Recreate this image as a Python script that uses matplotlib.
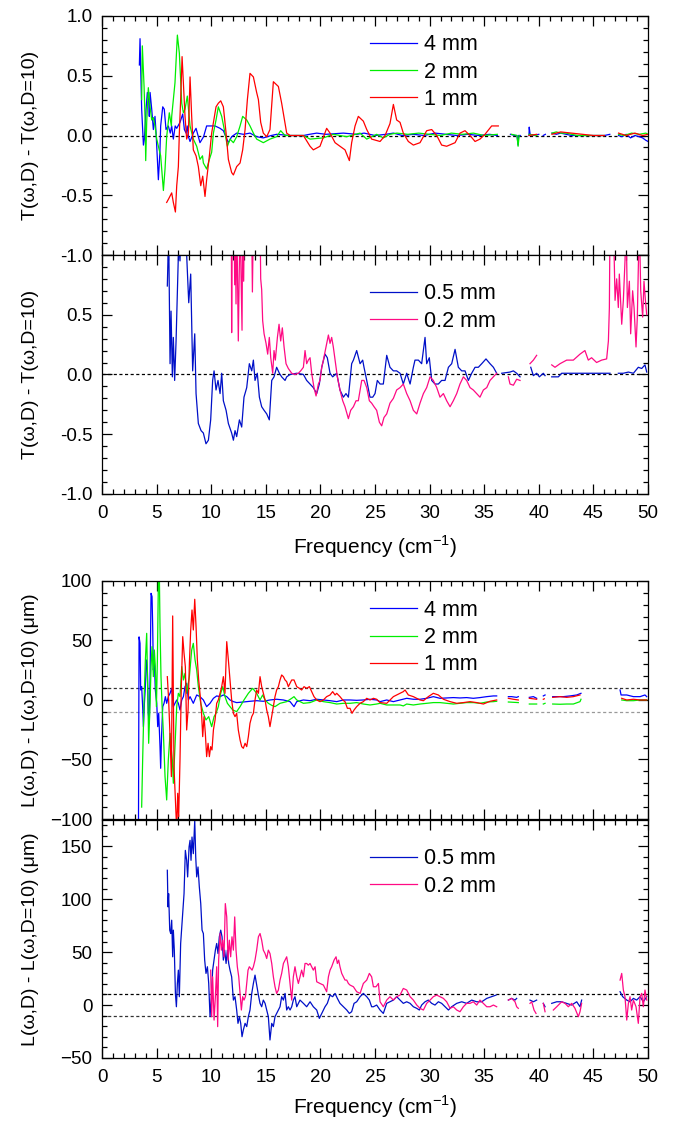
import numpy as np
import matplotlib.pyplot as plt
from matplotlib.ticker import MultipleLocator

plt.rcParams['font.family'] = ['Liberation Sans', 'DejaVu Sans']
nan = np.nan

# ---- transmission difference, thick samples (frequency cm-1, value) ----
t_4mm = [(3.42, 0.59), (3.48, 0.81), (3.63, 0.22), (3.79, -0.08), (3.88, -0.03), (4.03, 0.22), (4.15, 0.36),
         (4.27, 0.30), (4.33, 0.16), (4.40, 0.36), (4.55, 0.22), (4.70, 0.05), (4.85, 0.16), (4.95, 0.02),
         (5.01, -0.09), (5.16, -0.37), (5.30, -0.14), (5.37, 0.08), (5.56, 0.24), (5.70, 0.22), (5.86, 0.05),
         (6.07, 0.08), (6.25, 0.02), (6.38, 0.08), (6.53, -0.03), (6.70, 0.08), (6.84, 0.06), (7.14, 0.11),
         (7.39, 0.18), (7.54, 0.05), (7.70, 0.02), (7.80, 0.08), (7.91, -0.01), (8.06, -0.05), (8.36, 0.02),
         (8.61, 0.06), (8.97, -0.06), (9.30, -0.01), (9.58, 0.08), (9.89, 0.08), (10.35, 0.08), (10.81, 0.06),
         (11.11, 0.04), (11.57, -0.06), (11.87, -0.01), (12.33, 0.02), (12.94, 0.01), (13.55, 0.02),
         (14.16, -0.01), (14.77, -0.02), (15.5, 0.0), (15.99, 0.01), (17.22, 0.0), (18.44, 0.0), (19.0, 0.01),
         (19.66, 0.02), (20.5, 0.01), (22.1, 0.02), (23.32, 0.01), (24.0, 0.02), (25.0, 0.0), (26.0, 0.01),
         (26.68, 0.02), (27.5, 0.0), (28.5, 0.01), (29.5, 0.0), (30.5, 0.02), (31.5, 0.01), (32.5, 0.0),
         (33.5, 0.01), (34.5, 0.0), (35.5, 0.01), (36.2, 0.0), (nan, nan),
         (37.4, 0.01), (37.8, 0.0), (38.0, 0.0), (38.1, -0.08), (38.15, 0.0), (38.3, 0.0), (nan, nan),
         (39.1, 0.0), (39.12, 0.07), (39.2, 0.01), (39.6, 0.0), (40.0, 0.01), (nan, nan),
         (40.4, 0.0), (40.6, 0.01), (nan, nan),
         (41.2, 0.02), (41.6, 0.01), (42.0, 0.02), (42.5, 0.01), (43.0, 0.0), (44.0, 0.0), (45.0, 0.0),
         (46.0, 0.0), (46.5, 0.01), (nan, nan),
         (47.3, 0.0), (47.6, -0.01), (48.0, 0.01), (48.4, -0.02), (48.8, 0.0), (49.2, -0.01), (49.5, -0.02),
         (49.8, -0.04), (50.0, -0.05)]

t_2mm = [(3.63, 0.30), (3.69, 0.75), (3.85, 0.41), (3.95, 0.11), (4.00, -0.21), (4.09, 0.11), (4.24, 0.40),
         (4.40, 0.24), (4.55, 0.13), (4.70, 0.15), (4.85, 0.08), (5.01, -0.03), (5.16, -0.09), (5.37, -0.17),
         (5.62, -0.46), (5.77, -0.28), (5.92, -0.01), (6.16, 0.19), (6.35, 0.08), (6.38, 0.16), (6.68, 0.44),
         (6.90, 0.84), (7.08, 0.69), (7.30, 0.27), (7.45, 0.19), (7.60, 0.22), (7.81, 0.33), (8.06, 0.08),
         (8.36, -0.03), (8.67, -0.09), (8.97, -0.20), (9.20, -0.17), (9.28, -0.23), (9.58, -0.28),
         (9.83, -0.20), (10.04, -0.14), (10.20, 0.02), (10.44, 0.13), (10.65, 0.24), (10.96, 0.16),
         (11.26, 0.02), (11.48, -0.09), (11.72, -0.03), (12.03, -0.06), (12.33, -0.01), (12.64, 0.08),
         (12.88, 0.16), (13.25, 0.13), (13.55, 0.08), (13.86, 0.02), (14.16, -0.03), (14.77, -0.06),
         (15.38, -0.03), (15.99, -0.01), (16.36, 0.04), (16.76, 0.0), (17.22, 0.0), (18.44, 0.0),
         (19.05, -0.03), (20.27, -0.02), (21.18, 0.01), (22.41, -0.01), (23.63, 0.02), (24.24, -0.03),
         (25.15, 0.01), (25.76, -0.02), (26.37, 0.01), (27.0, 0.02), (28.0, 0.01), (29.0, 0.02), (30.0, 0.01),
         (31.0, 0.0), (32.0, 0.02), (33.0, 0.01), (34.0, 0.02), (35.0, 0.0), (36.2, 0.01), (nan, nan),
         (37.5, 0.01), (38.0, 0.0), (38.1, -0.09), (38.2, 0.0), (nan, nan),
         (39.1, 0.01), (39.8, 0.0), (nan, nan),
         (41.2, 0.02), (41.6, 0.03), (42.0, 0.02), (42.5, 0.02), (43.0, 0.01), (43.5, 0.0), (44.0, 0.0),
         (46.0, 0.0), (nan, nan),
         (47.3, 0.01), (47.8, 0.0), (48.5, 0.02), (49.2, 0.01), (49.8, 0.02), (50.0, 0.01)]

t_1mm = [(5.92, -0.56), (6.10, -0.53), (6.38, -0.48), (6.53, -0.56), (6.72, -0.64), (6.84, -0.42),
         (6.99, -0.26), (7.08, 0.02), (7.20, 0.30), (7.33, 0.66), (7.45, 0.44), (7.60, 0.16), (7.75, -0.03),
         (7.91, 0.02), (8.06, 0.49), (8.21, 0.16), (8.36, -0.12), (8.61, -0.17), (8.82, -0.26), (9.04, -0.42),
         (9.22, -0.34), (9.43, -0.51), (9.58, -0.37), (9.83, -0.17), (10.04, 0.02), (10.44, 0.24),
         (10.65, 0.27), (10.87, 0.29), (11.11, 0.24), (11.36, 0.02), (11.57, -0.20), (11.87, -0.31),
         (12.03, -0.33), (12.33, -0.26), (12.64, -0.23), (12.88, -0.12), (13.10, 0.05), (13.31, 0.30),
         (13.55, 0.52), (13.86, 0.49), (14.16, 0.36), (14.32, 0.30), (14.53, 0.11), (14.77, 0.02),
         (15.08, -0.01), (15.38, 0.05), (15.69, 0.45), (16.15, 0.41), (16.45, 0.27), (16.91, 0.02),
         (17.22, 0.0), (18.44, 0.0), (19.05, -0.09), (19.35, -0.12), (19.96, -0.09), (20.57, 0.06),
         (20.88, 0.02), (21.34, -0.06), (21.79, -0.09), (22.25, -0.12), (22.65, -0.21), (22.86, -0.06),
         (23.17, 0.08), (23.47, 0.16), (23.93, 0.12), (24.24, 0.05), (24.69, -0.03), (25.46, -0.05),
         (25.92, 0.0), (26.37, 0.10), (26.68, 0.26), (26.98, 0.13), (27.29, 0.11), (27.59, 0.02),
         (28.05, -0.05), (28.51, -0.08), (29.12, -0.06), (29.73, 0.04), (30.19, 0.05), (30.65, 0.0),
         (31.10, -0.08), (31.56, -0.09), (32.33, -0.06), (32.78, 0.02), (33.24, 0.04), (33.70, 0.0),
         (34.16, -0.05), (34.61, -0.03), (35.07, 0.01), (35.68, 0.08), (36.29, 0.08), (nan, nan),
         (39.1, 0.0), (39.8, 0.01), (nan, nan),
         (41.2, 0.01), (42.0, 0.03), (43.0, 0.02), (44.0, 0.01), (45.0, 0.0), (46.0, 0.0), (nan, nan),
         (47.3, 0.02), (48.0, 0.0), (48.8, 0.02), (49.5, 0.0), (50.0, 0.01)]

# ---- transmission difference, thin samples ----
t_05mm = [(5.98, 0.74), (6.10, 1.2), (6.23, 0.09), (6.32, 0.53), (6.44, -0.02), (6.53, 0.31), (6.65, -0.05),
          (6.78, 0.28), (6.90, 0.70), (7.02, 1.1), (7.14, 0.95), (7.26, 1.3), (7.39, 1.0), (7.51, 1.3),
          (7.75, 1.0), (7.94, 0.60), (8.12, 0.84), (8.30, 0.03), (8.49, 0.34), (8.61, -0.16), (8.82, -0.41),
          (9.07, -0.47), (9.28, -0.49), (9.52, -0.58), (9.74, -0.55), (9.95, -0.38), (10.13, -0.05),
          (10.26, 0.03), (10.44, -0.13), (10.62, -0.05), (10.81, -0.16), (10.96, 0.01), (11.11, -0.22),
          (11.36, -0.30), (11.57, -0.41), (11.87, -0.49), (12.03, -0.55), (12.18, -0.47), (12.33, -0.52),
          (12.58, -0.38), (12.79, -0.44), (13.00, -0.19), (13.25, -0.11), (13.49, 0.09), (13.71, 0.03),
          (13.86, 0.12), (14.01, -0.05), (14.22, 0.01), (14.41, -0.19), (14.62, -0.27), (14.84, -0.30),
          (15.08, -0.33), (15.32, -0.38), (15.54, -0.05), (15.75, -0.02), (15.99, 0.06), (16.24, 0.01),
          (16.45, -0.02), (16.76, -0.05), (16.91, -0.02), (17.22, 0.0), (17.83, 0.01), (18.44, 0.0),
          (18.74, -0.05), (19.05, -0.08), (19.35, -0.11), (19.66, -0.16), (19.90, -0.08), (20.12, 0.06),
          (20.42, 0.17), (20.63, 0.14), (20.88, 0.01), (21.12, -0.02), (21.49, 0.01), (21.79, -0.13),
          (22.10, -0.19), (22.34, -0.16), (22.56, -0.19), (22.86, 0.09), (23.02, 0.12), (23.32, 0.20),
          (23.63, 0.09), (23.87, 0.12), (23.99, 0.06), (24.24, -0.05), (24.54, -0.19), (24.79, -0.19),
          (25.00, -0.16), (25.21, -0.05), (25.46, -0.08), (25.76, -0.08), (26.07, 0.16), (26.37, 0.06),
          (26.68, 0.03), (26.98, 0.03), (27.29, 0.01), (27.59, -0.08), (27.90, 0.01), (28.21, -0.08),
          (28.51, 0.06), (28.66, 0.12), (28.97, 0.12), (29.27, 0.09), (29.58, 0.31), (29.73, 0.09),
          (29.97, 0.14), (30.19, -0.05), (30.49, -0.08), (30.80, -0.08), (31.10, -0.05), (31.41, -0.05),
          (31.72, 0.06), (32.02, 0.09), (32.33, 0.21), (32.63, 0.06), (32.94, 0.03), (33.24, 0.03),
          (33.55, -0.05), (33.85, 0.01), (34.16, 0.06), (34.46, 0.06), (34.77, 0.09), (35.16, 0.13),
          (35.53, 0.09), (35.84, 0.06), (36.14, 0.01), (nan, nan),
          (36.6, 0.01), (37.36, 0.02), (37.67, 0.03), (37.97, 0.01), (38.28, -0.02), (nan, nan),
          (39.26, 0.06), (39.50, -0.01), (39.80, 0.01), (40.05, -0.02), (40.41, 0.01), (40.57, -0.01), (nan, nan),
          (41.18, -0.02), (41.48, -0.02), (41.79, -0.02), (42.09, 0.01), (42.55, 0.01), (43.16, 0.01),
          (43.77, 0.01), (44.38, 0.01), (44.99, 0.01), (45.60, 0.01), (46.52, 0.01), (nan, nan),
          (47.28, 0.01), (47.74, 0.01), (48.20, 0.02), (48.66, 0.01), (49.11, 0.06), (49.42, 0.05),
          (49.72, 0.08), (49.88, 0.02)]

t_02mm = [(11.84, 1.3), (11.87, 0.35), (11.92, 1.3), (12.09, 1.3), (12.15, 0.75), (12.21, 1.3), (12.27, 0.59),
          (12.33, 1.3), (12.39, 0.95), (12.48, 0.28), (12.55, 0.76), (12.64, 1.3), (12.76, 0.70),
          (12.82, 0.37), (12.88, 1.3), (12.97, 0.78), (13.03, 1.3), (13.70, 1.3), (13.77, 0.69), (13.86, 1.3),
          (14.47, 1.3), (14.53, 0.80), (14.62, 0.71), (14.71, 0.45), (14.84, 0.34), (15.02, 0.26),
          (15.17, 0.17), (15.32, 0.31), (15.45, 0.14), (15.63, 0.01), (15.75, 0.20), (15.87, 0.12),
          (16.06, 0.31), (16.21, 0.42), (16.36, 0.28), (16.51, 0.39), (16.67, 0.23), (16.85, 0.09),
          (17.06, 0.05), (17.37, 0.01), (17.67, 0.0), (17.98, 0.01), (18.19, 0.03), (18.44, 0.06),
          (18.59, 0.20), (18.74, 0.09), (18.89, 0.12), (19.05, 0.14), (19.20, 0.01), (19.41, -0.11),
          (19.60, -0.18), (19.81, -0.08), (19.96, -0.05), (20.12, 0.06), (20.27, 0.12), (20.51, 0.23),
          (20.73, 0.33), (20.88, 0.26), (21.03, 0.31), (21.18, 0.23), (21.34, 0.12), (21.55, -0.02),
          (21.79, -0.13), (22.04, -0.22), (22.25, -0.27), (22.56, -0.37), (22.77, -0.30), (23.02, -0.27),
          (23.26, -0.22), (23.47, -0.22), (23.78, -0.05), (23.99, -0.05), (24.24, -0.11), (24.48, -0.22),
          (24.69, -0.24), (24.91, -0.27), (25.15, -0.30), (25.40, -0.40), (25.61, -0.43), (25.82, -0.36),
          (26.07, -0.33), (26.37, -0.24), (26.68, -0.20), (26.98, -0.13), (27.29, -0.11), (27.59, -0.08),
          (27.90, -0.16), (28.21, -0.22), (28.51, -0.30), (28.82, -0.33), (29.12, -0.24), (29.43, -0.16),
          (29.73, -0.11), (30.04, -0.02), (30.34, -0.05), (30.65, -0.11), (30.95, -0.19), (31.26, -0.16),
          (31.56, -0.22), (31.87, -0.27), (32.17, -0.22), (32.48, -0.16), (32.78, -0.08), (33.09, -0.02),
          (33.39, -0.05), (33.70, -0.11), (34.00, -0.13), (34.31, -0.16), (34.61, -0.19), (34.92, -0.13),
          (35.23, -0.11), (35.53, -0.05), (35.84, -0.02), (36.14, 0.01), (nan, nan),
          (37.21, -0.02), (37.36, -0.08), (37.67, -0.09), (37.97, -0.04), (38.28, -0.05), (nan, nan),
          (39.19, 0.09), (39.50, 0.12), (39.80, 0.16), (nan, nan),
          (41.18, 0.08), (41.48, 0.06), (41.94, 0.09), (42.55, 0.12), (43.16, 0.12), (43.77, 0.17),
          (44.22, 0.20), (44.53, 0.12), (44.83, 0.14), (45.29, 0.10), (45.75, 0.12), (46.21, 0.13),
          (46.37, 0.28), (46.46, 0.56), (46.52, 1.3), (46.83, 1.3), (46.98, 0.62), (47.13, 0.80),
          (47.28, 0.56), (47.37, 0.84), (47.59, 0.42), (47.74, 0.62), (47.89, 0.95), (47.99, 1.3),
          (48.11, 0.56), (48.29, 0.78), (48.41, 0.34), (48.59, 0.70), (48.72, 0.56), (48.90, 0.23),
          (49.02, 0.48), (49.20, 1.3), (49.33, 0.70), (49.51, 0.48), (49.63, 0.78), (49.76, 0.62),
          (49.88, 0.50)]

# ---- loss difference (um), thick samples ----
l_4mm = [(3.33, -130), (3.39, 53), (3.48, 47.6), (3.54, 8.4), (3.63, 11.2), (3.72, -5.6), (3.79, -22.4),
         (3.88, -2.8), (3.97, 11.2), (4.06, 33.6), (4.15, 25.2), (4.24, -11.2), (4.33, -19.6), (4.40, 19.6),
         (4.49, 89.6), (4.58, 86.8), (4.64, 61.6), (4.70, 25.2), (4.79, 33.6), (4.88, 8.4), (5.01, -2.8),
         (5.10, -22.4), (5.19, -11.2), (5.31, -39.2), (5.37, -57.4), (5.46, -28.0), (5.56, -5.6),
         (5.68, -2.8), (5.80, 2.8), (5.92, -2.8), (6.07, 2.8), (6.23, 5.6), (6.38, 9.8), (6.53, -5.6),
         (6.68, -2.8), (6.84, 0), (6.99, -2.8), (7.14, -8.4), (7.30, 0), (7.45, 2.8), (7.60, 11.2),
         (7.75, 14.0), (7.91, 0), (8.06, 2.8), (8.36, -2.8), (8.67, 4.2), (8.97, 2.8), (9.28, 0),
         (9.58, -5.6), (9.89, -2.8), (10.20, 1.4), (10.50, 3.4), (10.81, 2.8), (11.11, 4.2), (11.42, 2.8),
         (11.72, 0), (12.03, -1.4), (12.33, -2.2), (12.94, -1.7), (13.55, -1.1), (14.16, -0.6), (14.77, -1.1),
         (15.38, 0), (15.99, 0.6), (16.61, 0), (17.22, -1.4), (17.58, -5.6), (17.83, -1.4), (18.44, 0),
         (19.05, -0.6), (19.66, 0.6), (20.27, 0), (20.88, -0.6), (21.49, -1.4), (22.10, 0), (22.71, 0),
         (23.32, -0.3), (23.93, 0), (24.54, 0.6), (25.15, 0), (25.46, -1.4), (26.07, 0), (26.68, -1.4),
         (27.29, 0), (27.90, 1.4), (28.51, 0.6), (29.12, 0.6), (29.73, 1.4), (30.34, 2.8), (30.95, 1.4),
         (31.56, 1.7), (32.17, 2.0), (32.78, 1.7), (33.39, 2.0), (34.00, 1.4), (34.61, 2.0), (35.23, 2.8),
         (35.84, 3.4), (36.14, 3.4), (nan, nan),
         (37.21, 2.8), (37.51, 2.8), (37.97, 2.2), (38.12, 2.8), (nan, nan),
         (39.13, 2.2), (39.50, 2.8), (39.80, 1.4), (nan, nan),
         (40.41, 3.4), (40.57, 4.2), (nan, nan),
         (41.27, 2.8), (41.64, 2.8), (42.25, 2.8), (42.86, 3.4), (43.47, 4.2), (43.86, 5.6), (nan, nan),
         (47.44, 8.4), (47.53, 4.2), (48.05, 4.2), (48.66, 2.8), (49.27, 2.8), (49.72, 4.2), (49.88, 2.8)]

l_2mm = [(3.63, -90), (3.72, -50.4), (3.85, 0), (3.97, 33.6), (4.09, 56.0), (4.18, 11.2), (4.27, -36.4),
         (4.40, -2.8), (4.49, 28.0), (4.58, 44.8), (4.70, 19.6), (4.79, 42.0), (4.88, 28.0), (4.98, -5.6),
         (5.07, 33.6), (5.16, 100), (5.25, 105), (5.31, 61.6), (5.40, 19.6), (5.49, -2.8), (5.62, -28.0),
         (5.77, -64.4), (5.92, -84.0), (6.07, -50.4), (6.23, -28.0), (6.32, -39.2), (6.44, -50.4),
         (6.53, -70.0), (6.68, -39.2), (6.84, -5.6), (6.99, 5.6), (7.14, 2.8), (7.30, 28.0), (7.45, 16.8),
         (7.60, 22.4), (7.75, 5.6), (8.00, 19.6), (8.21, 42.0), (8.36, 47.6), (8.52, 33.6), (8.67, 25.2),
         (8.82, 11.2), (9.04, -2.8), (9.28, -11.2), (9.52, -16.8), (9.77, -14.0), (10.04, -22.4),
         (10.26, -14.0), (10.44, -11.2), (10.65, -5.6), (10.87, 5.6), (11.05, 11.2), (11.26, 2.8),
         (11.48, -2.8), (11.72, -5.6), (11.97, -8.4), (12.33, -9.8), (12.64, -5.6), (13.00, 0), (13.40, 5.6),
         (13.80, 9.8), (14.16, 5.6), (14.47, 0), (14.71, 4.2), (14.93, 0), (15.23, -2.8), (15.54, -4.5),
         (15.84, -5.6), (16.30, -2.8), (16.91, -1.4), (17.37, 1.4), (17.58, 2.8), (17.83, 0), (18.44, -2.8),
         (19.05, -2.2), (19.66, 0), (20.27, -1.4), (20.88, -2.2), (21.49, -3.4), (22.10, -2.8), (22.71, -2.8),
         (23.32, -2.2), (23.93, -3.4), (24.54, -4.2), (25.15, -3.4), (25.46, -2.8), (26.07, -4.2),
         (26.68, -4.2), (27.29, -4.2), (27.59, -5.0), (27.90, -3.4), (28.51, -4.2), (29.12, -3.4),
         (29.73, -2.8), (30.34, -2.2), (30.95, -2.2), (31.56, -2.8), (32.17, -3.4), (32.78, -2.8),
         (33.39, -2.2), (34.00, -2.2), (34.61, -2.8), (35.23, -1.7), (35.84, -1.4), (36.14, -1.1), (nan, nan),
         (37.21, -1.7), (38.12, -2.2), (nan, nan),
         (39.13, -3.4), (39.80, -3.4), (nan, nan),
         (40.41, -3.4), (40.57, -2.8), (nan, nan),
         (41.27, -3.4), (41.94, -3.6), (42.55, -3.4), (43.16, -3.4), (43.77, -1.4), (43.86, 0.6), (nan, nan),
         (47.59, 0), (48.05, -0.6), (48.66, -0.6), (49.27, 0), (49.88, 0)]

l_1mm = [(5.98, 19.6), (6.10, 0), (6.23, -30.8), (6.35, -64.4), (6.47, 70.6), (6.59, -56.0), (6.72, -84.0),
         (6.84, -110), (6.93, -78.4), (7.02, -98), (7.14, -50.4), (7.26, 11.2), (7.39, 53.2), (7.51, 39.2),
         (7.63, 28.0), (7.75, -25.2), (7.88, -8.4), (8.00, 30.8), (8.12, 58.8), (8.24, 75.6), (8.36, 58.8),
         (8.49, 84.6), (8.61, 61.6), (8.73, 33.6), (8.85, 16.8), (8.97, 5.6), (9.10, -8.4), (9.22, -30.8),
         (9.34, -14.0), (9.46, -28.0), (9.58, -47.6), (9.71, -36.4), (9.83, -47.6), (9.95, -39.2),
         (10.07, -42.0), (10.20, -25.2), (10.35, -16.8), (10.50, -2.8), (10.65, 0), (10.81, 5.6),
         (10.96, 11.2), (11.11, 19.6), (11.26, 5.6), (11.42, 49.0), (11.57, 33.6), (11.72, 16.8), (11.87, 0),
         (12.03, -11.2), (12.18, -14.0), (12.33, -11.2), (12.48, -25.2), (12.64, -33.6), (12.79, -39.2),
         (12.94, -40.6), (13.10, -36.4), (13.25, -39.2), (13.40, -30.8), (13.55, -19.6), (13.71, -14.0),
         (13.86, -11.2), (14.01, 0), (14.16, 8.4), (14.32, 5.6), (14.47, 19.6), (14.62, 11.2), (14.77, 5.6),
         (14.93, 0), (15.08, -8.4), (15.23, -14.0), (15.38, -22.4), (15.54, -14.0), (15.69, -5.6),
         (15.84, 2.8), (15.99, 8.4), (16.15, 11.2), (16.30, 16.8), (16.45, 21.0), (16.61, 19.6), (16.76, 16.8),
         (16.91, 15.4), (17.06, 11.2), (17.22, 14.0), (17.37, 16.8), (17.58, 16.8), (17.83, 11.2), (18.07, 9.8),
         (18.28, 8.4), (18.50, 11.2), (18.74, 9.8), (18.99, 11.2), (19.20, 7.0), (19.41, 2.8), (19.66, 0),
         (19.96, -1.4), (20.27, 0), (20.57, 2.8), (20.88, 4.2), (21.12, 7.0), (21.34, 4.2), (21.49, 5.6),
         (21.79, 2.8), (22.04, 0), (22.25, -1.4), (22.47, -7.0), (22.71, -7.0), (22.89, -11.2), (23.08, -8.4),
         (23.32, -5.6), (23.63, -2.8), (23.93, -1.4), (24.24, 1.4), (24.54, 0), (24.85, 1.4), (25.15, 0.6),
         (25.46, -2.2), (26.07, -2.8), (26.68, 2.8), (27.29, 5.6), (27.59, 7.0), (27.75, 8.4), (28.05, 4.2),
         (28.51, 2.8), (29.12, 0), (29.43, -0.6), (29.88, 2.8), (30.34, 5.6), (30.80, 4.2), (31.26, 0.6),
         (31.87, -1.4), (32.48, -2.8), (33.09, -2.2), (33.70, -1.4), (34.31, -2.2), (34.92, -3.4),
         (35.53, -1.1), (36.14, 0), (nan, nan),
         (37.21, 1.4), (37.67, 0.6), (38.12, 0), (nan, nan),
         (39.13, 1.4), (39.80, 0.6), (nan, nan),
         (40.41, 0.6), (40.5, 1.0), (nan, nan),
         (41.27, 2.2), (41.94, 2.8), (42.55, 2.2), (43.16, 2.8), (43.77, 4.2), (nan, nan),
         (47.59, 1.4), (48.05, 0), (48.66, 0.6), (49.27, 0), (49.88, 0)]

# ---- loss difference (um), thin samples ----
l_05mm = [(5.98, 127.4), (6.04, 92.8), (6.10, 105.3), (6.20, 70.8), (6.29, 67.6), (6.38, 80.2), (6.47, 45.6),
          (6.53, 70.8), (6.62, 51.9), (6.72, 11.0), (6.81, -1.6), (6.90, 20.4), (6.99, 33.0), (7.08, 7.9),
          (7.20, 58.2), (7.30, 73.9), (7.39, 86.5), (7.51, 105.3), (7.63, 146.2), (7.75, 136.8), (7.84, 121.1),
          (7.97, 149.4), (8.06, 155.7), (8.15, 136.8), (8.24, 158.8), (8.36, 143.1), (8.49, 174.5),
          (8.58, 140.0), (8.67, 121.1), (8.79, 130.5), (8.91, 111.6), (9.04, 95.9), (9.16, 70.8), (9.28, 67.6),
          (9.40, 42.5), (9.52, 29.9), (9.65, 36.2), (9.77, 20.4), (9.89, -11.0), (10.01, 7.9), (10.13, 33.0),
          (10.26, 42.5), (10.38, 51.9), (10.50, 58.2), (10.62, 48.7), (10.74, 64.5), (10.87, 70.8),
          (10.99, 64.5), (11.11, 42.5), (11.23, 51.9), (11.36, 39.3), (11.48, 51.9), (11.60, 39.3),
          (11.72, 33.0), (11.87, 26.7), (12.03, 4.7), (12.18, 7.9), (12.33, -4.7), (12.45, -17.3),
          (12.58, -11.0), (12.70, -17.3), (12.82, -29.9), (12.94, -23.6), (13.10, -17.3), (13.25, -20.4),
          (13.40, -11.0), (13.55, -4.7), (13.71, 11.0), (13.86, 20.4), (14.01, 28.3), (14.16, 18.9),
          (14.32, 9.4), (14.47, 1.6), (14.62, -1.6), (14.77, 4.7), (14.93, 1.6), (15.08, -4.7), (15.23, -11.0),
          (15.38, -33.0), (15.54, -17.3), (15.69, -20.4), (15.84, -11.0), (15.99, -7.9), (16.15, -4.7),
          (16.30, -1.6), (16.45, 7.9), (16.61, 4.7), (16.76, 11.0), (16.91, -4.7), (17.06, -1.6), (17.22, -4.7),
          (17.37, -1.6), (17.52, 4.7), (17.67, 7.9), (17.83, -1.6), (17.98, 1.6), (18.13, 4.7), (18.44, 1.6),
          (18.74, -1.6), (19.05, 3.1), (19.35, -1.6), (19.66, -4.7), (19.90, -12.6), (20.12, -7.9),
          (20.42, -1.6), (20.63, 1.6), (20.88, 9.4), (21.12, 7.9), (21.34, 11.0), (21.55, 6.3), (21.79, 1.6),
          (22.10, -1.6), (22.41, -4.7), (22.65, -7.9), (22.86, -6.3), (23.08, 1.6), (23.32, 3.1), (23.63, 7.9),
          (23.93, 11.0), (24.24, 7.9), (24.48, 4.7), (24.69, -1.6), (24.85, -1.6), (25.15, 0), (25.46, -4.7),
          (25.76, -7.9), (26.07, 1.6), (26.37, 3.1), (26.68, 4.7), (26.98, 7.9), (27.29, 4.7), (27.59, 1.6),
          (27.90, 3.1), (28.21, 1.6), (28.51, -1.6), (28.82, -3.1), (29.06, -4.7), (29.27, 0), (29.58, 3.1),
          (29.88, 4.7), (30.19, 1.6), (30.49, 0), (30.80, 3.1), (31.10, 1.6), (31.41, -1.6), (31.72, -4.7),
          (32.02, -1.6), (32.48, 1.6), (32.94, 3.1), (33.39, 1.6), (33.85, 4.7), (34.31, 3.1), (34.77, 3.1),
          (35.23, 6.3), (35.68, 7.9), (36.08, 9.4), (nan, nan),
          (37.21, 4.7), (37.51, 6.3), (37.82, 4.7), (37.97, 6.3), (nan, nan),
          (39.19, 4.7), (39.50, 3.1), (39.80, 4.7), (nan, nan),
          (40.41, 1.6), (40.57, -1.6), (nan, nan),
          (41.18, 1.6), (41.64, 3.1), (42.09, 3.1), (42.55, 1.6), (43.01, 0), (43.47, 3.1), (43.77, -1.6),
          (43.92, 4.7), (nan, nan),
          (47.44, 12.6), (47.68, 7.9), (48.05, 4.7), (48.35, 3.1), (48.66, 6.3), (48.96, 4.7), (49.27, 7.9),
          (49.57, 3.1), (49.88, 7.9)]

l_02mm = [(9.95, 33.0), (10.04, -11.0), (10.13, 26.7), (10.26, -14.2), (10.38, 7.9), (10.50, 36.2),
          (10.59, -20.4), (10.68, 42.5), (10.81, 67.6), (10.93, 51.9), (11.05, 61.3), (11.17, 45.6),
          (11.29, 95.9), (11.42, 83.3), (11.54, 42.5), (11.66, 61.3), (11.78, 45.6), (11.90, 64.5),
          (12.03, 51.9), (12.15, 83.3), (12.27, 51.9), (12.39, 36.2), (12.52, 26.7), (12.64, 11.0),
          (12.76, -4.7), (12.88, 7.9), (13.00, 4.7), (13.13, 7.9), (13.25, 20.4), (13.37, 33.0), (13.49, 36.2),
          (13.61, 34.6), (13.74, 33.0), (13.86, 36.2), (14.01, 42.5), (14.16, 51.9), (14.32, 64.5),
          (14.47, 67.6), (14.62, 61.3), (14.77, 51.9), (14.93, 48.7), (15.08, 44.0), (15.23, 51.9),
          (15.38, 48.7), (15.54, 39.3), (15.69, 26.7), (15.84, 17.3), (15.99, 11.0), (16.15, 14.2),
          (16.30, 23.6), (16.45, 29.9), (16.61, 39.3), (16.76, 42.5), (16.91, 45.6), (17.06, 36.2),
          (17.22, 20.4), (17.37, 4.7), (17.52, 26.7), (17.67, 36.2), (17.83, 26.7), (17.98, 20.4),
          (18.13, 26.7), (18.28, 33.0), (18.44, 26.7), (18.59, 39.3), (18.74, 39.3), (18.89, 37.7),
          (19.05, 39.3), (19.20, 36.2), (19.35, 33.0), (19.51, 36.2), (19.66, 22.0), (19.96, 20.4),
          (20.27, 18.9), (20.57, 12.6), (20.73, 26.7), (20.88, 33.0), (21.03, 36.2), (21.25, 42.5),
          (21.43, 45.6), (21.55, 39.3), (21.67, 42.5), (21.79, 36.2), (21.95, 29.9), (22.10, 26.7),
          (22.25, 23.6), (22.41, 23.6), (22.56, 20.4), (22.71, 18.9), (23.02, 17.3), (23.32, 12.6),
          (23.63, 11.0), (23.93, 20.4), (24.24, 23.6), (24.48, 29.9), (24.69, 26.7), (24.85, 17.3),
          (25.09, 17.3), (25.31, 20.4), (25.46, 3.1), (25.76, -1.6), (26.07, 4.7), (26.37, 7.9), (26.68, 4.7),
          (26.98, 7.9), (27.29, 9.4), (27.59, 15.7), (27.90, 14.2), (28.21, 7.9), (28.51, 4.7), (28.82, 0),
          (29.12, -3.1), (29.43, -4.7), (29.73, 1.6), (30.04, 4.7), (30.34, 7.9), (30.65, 9.4), (30.95, 7.9),
          (31.26, 6.3), (31.56, 3.1), (31.87, -3.1), (32.17, -1.6), (32.48, -4.7), (32.78, -6.3), (33.09, -1.6),
          (33.39, 1.6), (33.70, 1.6), (34.00, 3.1), (34.31, 0), (34.61, 4.7), (34.92, 1.6), (35.23, -1.6),
          (35.53, -1.6), (35.84, 0), (36.14, -1.6), (nan, nan),
          (37.21, 4.7), (37.51, 6.3), (37.82, 3.1), (37.97, -1.6), (38.12, -3.1), (nan, nan),
          (39.19, 1.6), (39.35, 3.1), (39.56, -4.7), (39.74, -7.9), (nan, nan),
          (40.41, 1.6), (40.57, -6.3), (nan, nan),
          (41.33, -4.7), (41.64, -1.6), (42.09, 3.1), (42.40, 1.6), (42.70, -1.6), (43.01, 1.6), (43.31, -3.1),
          (43.62, -11.0), (43.77, -6.3), (43.92, 1.6), (nan, nan),
          (47.44, 23.6), (47.59, 29.9), (47.74, 14.2), (47.89, 7.9), (48.05, -14.2), (48.20, 1.6), (48.35, 7.9),
          (48.50, -4.7), (48.66, 4.7), (48.90, -1.6), (49.11, -17.3), (49.27, 7.9), (49.42, 11.0),
          (49.57, -1.6), (49.72, 14.2), (49.88, 4.7)]

BLUE, GREEN, RED = '#0000ff', '#00ee00', '#ff0000'
DBLUE, PINK = '#0010c8', '#ff0a84'

fig = plt.figure(figsize=(6.73, 11.25), dpi=100)
left, width = 0.1516, 0.8113
ax1 = fig.add_axes([left, 0.7733, width, 0.2125])
ax2 = fig.add_axes([left, 0.5609, width, 0.2125])
ax3 = fig.add_axes([left, 0.2720, width, 0.2116])
ax4 = fig.add_axes([left, 0.0596, width, 0.2116])


def draw(ax, series, leg_y):
    for data, color, label in series:
        f, v = np.array(data, dtype=float).T
        ax.plot(f, v, color=color, lw=0.9, label=label)
    ax.legend(loc='upper left', bbox_to_anchor=(0.49, leg_y), frameon=False, fontsize=15.5,
              handlelength=2.2, handletextpad=0.33, labelspacing=0.29, borderpad=0, borderaxespad=0)


def style(ax, ymajor, yminor):
    ax.set_xlim(0, 50)
    ax.xaxis.set_major_locator(MultipleLocator(5))
    ax.xaxis.set_minor_locator(MultipleLocator(1))
    ax.yaxis.set_major_locator(MultipleLocator(ymajor))
    ax.yaxis.set_minor_locator(MultipleLocator(yminor))
    ax.tick_params(which='both', direction='in', top=True, right=True, labelsize=13.5, width=0.9)
    ax.tick_params(which='major', length=7)
    ax.tick_params(which='minor', length=3.5)
    ax.tick_params(axis='y', pad=7)
    ax.tick_params(axis='x', pad=8)
    for s in ax.spines.values():
        s.set_linewidth(0.9)


draw(ax1, [(t_4mm, BLUE, '4 mm'), (t_2mm, GREEN, '2 mm'), (t_1mm, RED, '1 mm')], 0.923)
draw(ax2, [(t_05mm, DBLUE, '0.5 mm'), (t_02mm, PINK, '0.2 mm')], 0.881)
draw(ax3, [(l_4mm, BLUE, '4 mm'), (l_2mm, GREEN, '2 mm'), (l_1mm, RED, '1 mm')], 0.92)
draw(ax4, [(l_05mm, DBLUE, '0.5 mm'), (l_02mm, PINK, '0.2 mm')], 0.88)

for ax in (ax1, ax2):
    ax.axhline(0, color='black', lw=0.9, ls=(0, (2.5, 2)), zorder=0)
    ax.set_ylim(-1, 1)
    style(ax, 0.5, 0.1)
    ax.yaxis.set_major_formatter(lambda y, pos: f'{y:.1f}')
    ax.set_ylabel('T(\u03c9,D) - T(\u03c9,D=10)', fontsize=14)
    ax.yaxis.set_label_coords(-0.115, 0.5)

ax3.axhline(10, color='#333333', lw=0.9, ls=(0, (2.5, 2)), zorder=0)
ax3.axhline(-10, color='#999999', lw=0.9, ls=(0, (2.5, 2)), zorder=0)
ax4.axhline(10, color='black', lw=0.9, ls=(0, (2.5, 2)), zorder=0)
ax4.axhline(-10, color='#333333', lw=0.9, ls=(0, (2.5, 2)), zorder=0)
ax3.set_ylim(-100, 100)
ax4.set_ylim(-50, 175)
for ax in (ax3, ax4):
    style(ax, 50, 10)
    ax.set_ylabel('L(\u03c9,D) - L(\u03c9,D=10) (\u03bcm)', fontsize=14)
    ax.yaxis.set_label_coords(-0.115, 0.5)

ax2.set_yticks([-1, -0.5, 0, 0.5, 1], ['-1.0', '-0.5', '0.0', '0.5', ''])
for ax in (ax1, ax3):
    ax.tick_params(axis='x', labelbottom=False)
for ax in (ax2, ax4):
    ax.set_xlabel('Frequency (cm$^{\\mathregular{-1}}$)', fontsize=15)
ax2.xaxis.set_label_coords(0.5, -0.165)
ax4.xaxis.set_label_coords(0.5, -0.15)

fig.savefig('out.png', dpi=100)
